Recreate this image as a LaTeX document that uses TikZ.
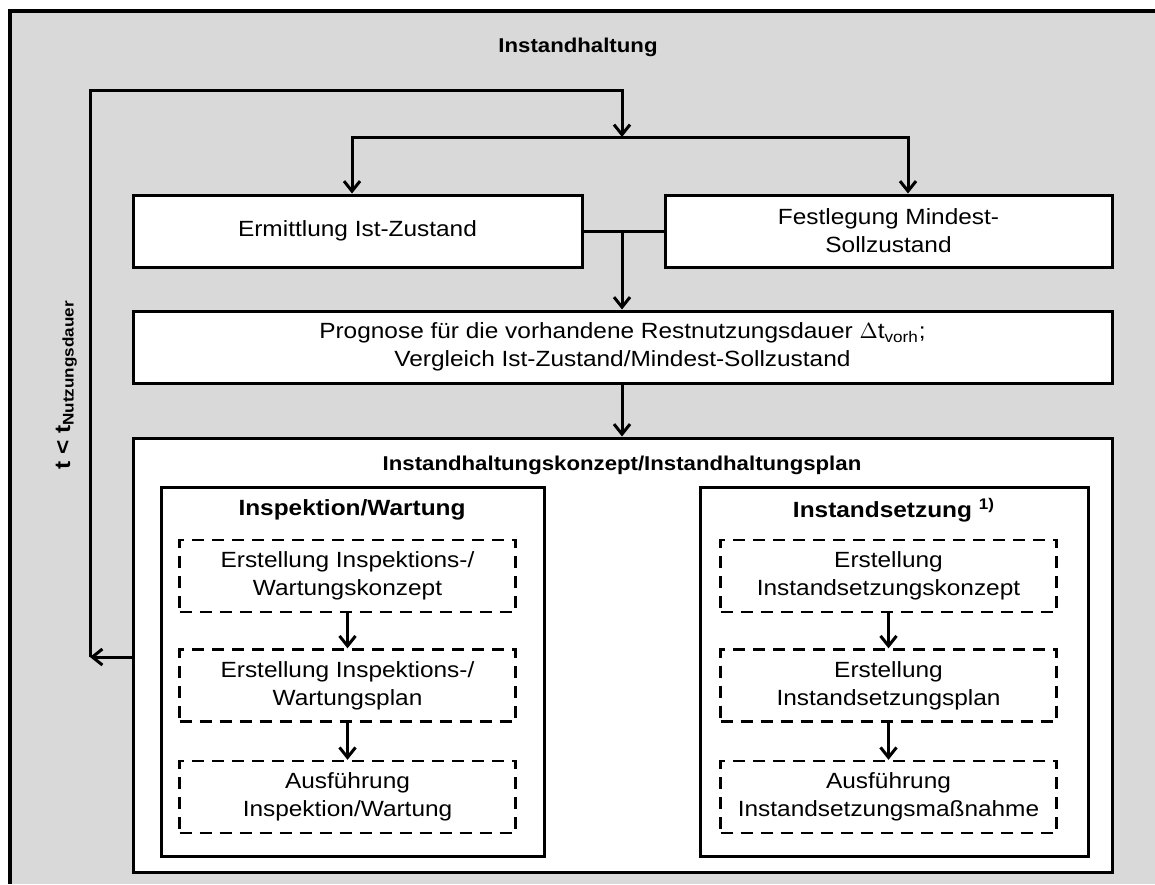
\documentclass[tikz,border=0pt]{standalone}
\usepackage{fontspec}
\setmainfont[FakeStretch=1.11]{Liberation Sans}
\usetikzlibrary{arrows.meta}
\definecolor{bggray}{HTML}{D9D9D9}
\newcommand{\txtsize}{\fontsize{11}{14}\selectfont}
\newcommand{\kopfsize}{\fontsize{10}{13}\selectfont}
\tikzset{
	box/.style={draw, line width=1.5pt, fill=white, inner sep=0pt, align=center},
	stepbox/.style={draw, dash pattern=on 6pt off 4pt, line width=1.2pt, fill=white, inner sep=0pt, align=center, minimum height=36pt},
	flow/.style={line width=1.5pt, -{Straight Barb[length=5pt,width=8pt]}},
	ttl/.style={font=\txtsize\bfseries},
	kopf/.style={font=\kopfsize\bfseries}
}

\begin{document}
\begin{tikzpicture}[x=0.5pt,y=-0.5pt,font=\txtsize]
	\useasboundingbox (0,0) rectangle (1155,884);
	\fill[bggray] (8,9) rectangle (1155,884);
	\draw[line width=2pt] (10,884) -- (10,11) -- (1155,11);
	\node[kopf] (titel) at (578,47) {Instandhaltung};
	\node[ttl, rotate=90, anchor=base west, inner sep=0pt] (tlabel) at (70,470) {t < t\textsubscript{Nutzungsdauer}};

	\node[box, minimum width=224.5pt, minimum height=36pt] (ermittlung) at (357.5,231) {Ermittlung Ist-Zustand};
	\node[box, minimum width=223.5pt, minimum height=36pt] (festlegung) at (888.5,231) {Festlegung Mindest-\\Sollzustand};
	\node[box, minimum width=489.5pt, minimum height=36pt] (prognose) at (622.5,347) {Prognose f\"ur die vorhandene Restnutzungsdauer $\Delta$t\textsubscript{vorh};\\Vergleich Ist-Zustand/Mindest-Sollzustand};

	\node[box, minimum width=489.5pt, minimum height=217pt] (konzept) at (622.5,655) {};
	\node[kopf] (konzepttitel) at (622,465) {Instandhaltungskonzept/Instandhaltungsplan};
	\node[box, minimum width=191.5pt, minimum height=184.5pt] (wartung) at (352.5,671.5) {};
	\node[ttl] (wartungtitel) at (352,510) {Inspektion/Wartung};
	\node[box, minimum width=194pt, minimum height=184.5pt] (setzung) at (894,671.5) {};
	\node[ttl] (setzungtitel) at (894,510) {Instandsetzung \textsuperscript{1)}};

	\foreach \nm/\xc/\yc/\txt in {
		iw1/347.5/576/{Erstellung Inspektions-/\\Wartungskonzept},
		iw2/347.5/685.5/{Erstellung Inspektions-/\\Wartungsplan},
		iw3/347.5/797/{Ausf\"uhrung\\Inspektion/Wartung},
		is1/888.5/576/{Erstellung\\Instandsetzungskonzept},
		is2/888.5/685.5/{Erstellung\\Instandsetzungsplan},
		is3/888.5/797/{Ausf\"uhrung\\Instandsetzungsma\ss nahme}} {
		\node[stepbox, minimum width=168pt] (\nm) at (\xc,\yc) {\txt};
	}
	\foreach \a/\b in {iw1/iw2, iw2/iw3, is1/is2, is2/is3}
		\draw[flow] (\a) -- (\b);

	\coordinate (ruecklauf) at (90,657);
	\coordinate (oben) at (90,90);
	\coordinate (verteiler) at (622,137);
	\coordinate (zusammen) at (622,233);
	\draw[flow] (konzept.west |- ruecklauf) -- (ruecklauf);
	\draw[flow] (ruecklauf) -- (oben) -| (verteiler);
	\draw[flow] (verteiler) -| ([xshift=-2.75pt]ermittlung.north);
	\draw[flow] (verteiler) -| ([xshift=9.75pt]festlegung.north);
	\draw[line width=1.5pt] (ermittlung.east) -- (festlegung.west);
	\draw[flow] (zusammen) -- (zusammen |- prognose.north);
	\draw[flow] (prognose.south -| zusammen) -- (konzept.north -| zusammen);
\end{tikzpicture}
\end{document}
